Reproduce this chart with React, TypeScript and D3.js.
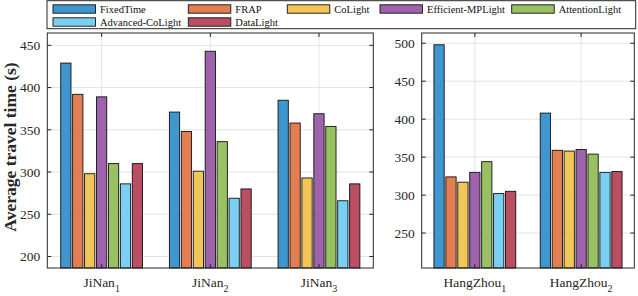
import React from "react";
import * as d3 from "d3";

const series = ["FixedTime", "FRAP", "CoLight", "Efficient-MPLight", "AttentionLight", "Advanced-CoLight", "DataLight"];
const colors = ["#4096ce", "#e37e53", "#f2c558", "#9f63ab", "#99c164", "#7acff3", "#ba4f63"];

const jinanCats = ["JiNan", "JiNan", "JiNan"];
const jinanSubs = ["1", "2", "3"];
const hangzhouCats = ["HangZhou", "HangZhou"];
const hangzhouSubs = ["1", "2"];

// values per category, in series order
const jinan1 = [429, 392, 298, 389, 310, 286, 310];
const jinan2 = [371, 348, 301, 443, 336, 269, 280];
const jinan3 = [385, 358, 293, 369, 354, 266, 286];
const hangzhou1 = [498, 324, 317, 330, 344, 302, 305];
const hangzhou2 = [408, 359, 358, 360, 354, 330, 331];

const leftTicks = [200, 250, 300, 350, 400, 450];
const rightTicks = [250, 300, 350, 400, 450, 500];
const leftDomain = [186.4, 464.6];
const rightDomain = [204, 513.5];

const W = 638, H = 296;
const TOP = 33, BOTTOM = 268;
const FONT = "Liberation Serif, Times New Roman, Times, serif";

type PanelProps = {
  x0: number; x1: number; cats: string[]; subs: string[]; data: number[][];
  domain: number[]; ticks: number[];
};

function Panel({ x0, x1, cats, subs, data, domain, ticks }: PanelProps) {
  const ids = cats.map((_, i) => String(i));
  const xs = d3.scaleBand<string>().domain(ids).range([x0, x1]).padding(0);
  const inner = d3.scaleBand<string>().domain(series).range([-41.75, 41.75]).paddingInner(0.14).paddingOuter(0.07);
  const y = d3.scaleLinear().domain(domain).range([BOTTOM, TOP]);
  const tl = 4;
  return (
    <g>
      {ticks.map((t) => (
        <line key={"gy" + t} x1={x0} x2={x1} y1={y(t)} y2={y(t)} stroke="#e3e3e3" strokeWidth={1} />
      ))}
      {ids.map((id) => {
        const cx = xs(id)! + xs.bandwidth() / 2;
        return <line key={"gx" + id} x1={cx} x2={cx} y1={TOP} y2={BOTTOM} stroke="#e3e3e3" strokeWidth={1} />;
      })}
      {ids.map((id, ci) => {
        const cx = xs(id)! + xs.bandwidth() / 2;
        return data[ci].map((v, si) => {
          const bx = cx + inner(series[si])!;
          const by = y(v);
          return (
            <rect key={id + "-" + si} x={bx} y={by} width={inner.bandwidth()} height={BOTTOM - by}
              fill={colors[si]} stroke="#111" strokeWidth={0.9} />
          );
        });
      })}
      <rect x={x0} y={TOP} width={x1 - x0} height={BOTTOM - TOP} fill="none" stroke="#262626" strokeWidth={1} />
      {ticks.map((t) => (
        <g key={"t" + t}>
          <line x1={x0} x2={x0 + tl} y1={y(t)} y2={y(t)} stroke="#262626" />
          <line x1={x1} x2={x1 - tl} y1={y(t)} y2={y(t)} stroke="#262626" />
          <text x={x0 - 7} y={y(t)} dy="0.35em" textAnchor="end" style={{ fontFamily: FONT }} fontSize={13.5} fill="#262626">{t}</text>
        </g>
      ))}
      {ids.map((id, ci) => {
        const cx = xs(id)! + xs.bandwidth() / 2;
        return (
          <g key={"c" + id}>
            <line x1={cx} x2={cx} y1={BOTTOM} y2={BOTTOM - tl} stroke="#262626" />
            <line x1={cx} x2={cx} y1={TOP} y2={TOP + tl} stroke="#262626" />
            <text x={cx} y={287} textAnchor="middle" style={{ fontFamily: FONT }} fontSize={13.5} fill="#262626">
              {cats[ci]}
              <tspan fontSize={10} dy={5}>{subs[ci]}</tspan>
            </text>
          </g>
        );
      })}
    </g>
  );
}

const legendCols = [53, 188.3, 287.3, 380, 511.7];
const legendRows = [9, 22];

function Legend() {
  return (
    <g>
      <rect x={47} y={0.7} width={588.7} height={28} fill="#fff" stroke="#262626" strokeWidth={1} />
      {series.map((s, i) => {
        const col = i % 5;
        const row = Math.floor(i / 5);
        const lx = legendCols[col];
        const cy = legendRows[row];
        return (
          <g key={s}>
            <rect x={lx} y={cy - 4.2} width={42.5} height={8.4} fill={colors[i]} stroke="#111" strokeWidth={0.9} />
            <text x={lx + 47} y={cy} dy="0.35em" style={{ fontFamily: FONT }} fontSize={10.5} fill="#111">{s}</text>
          </g>
        );
      })}
    </g>
  );
}

export default function App() {
  return (
    <svg width={W} height={H} style={{ position: "absolute", left: 0, top: 0, background: "#fff" }}>
      <rect width={W} height={H} fill="#fff" />
      <Panel x0={47.3} x1={373.3} cats={jinanCats} subs={jinanSubs} data={[jinan1, jinan2, jinan3]} domain={leftDomain} ticks={leftTicks} />
      <Panel x0={421.7} x1={634.3} cats={hangzhouCats} subs={hangzhouSubs} data={[hangzhou1, hangzhou2]} domain={rightDomain} ticks={rightTicks} />
      <Legend />
      <text transform="translate(15.5,147) rotate(-90)" textAnchor="middle" style={{ fontFamily: FONT }} fontSize={17.5} fontWeight="bold" fill="#262626">
        Average travel time (s)
      </text>
    </svg>
  );
}
